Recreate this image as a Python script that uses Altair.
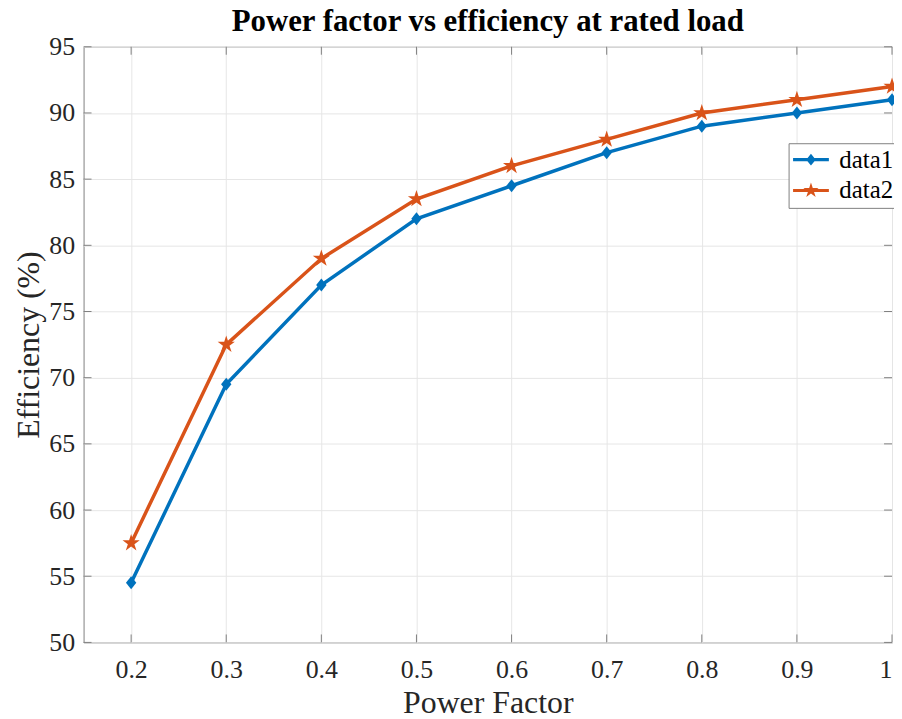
import altair as alt
import pandas as pd

power_factor = [0.2, 0.3, 0.4, 0.5, 0.6, 0.7, 0.8, 0.9, 1.0]
data1 = [54.5, 69.5, 77.0, 82.0, 84.5, 87.0, 89.0, 90.0, 91.0]
data2 = [57.5, 72.5, 79.0, 83.5, 86.0, 88.0, 90.0, 91.0, 92.0]
series_names = ["data1", "data2"]
x_ticks = [0.2, 0.3, 0.4, 0.5, 0.6, 0.7, 0.8, 0.9, 1.0]
y_ticks = [50, 55, 60, 65, 70, 75, 80, 85, 90, 95]

BLUE = "#0072BD"
ORANGE = "#D95319"
AXC = "#808080"
FONT = "Liberation Serif"

rows = []
for name, vals in zip(series_names, [data1, data2]):
    for p, v in zip(power_factor, vals):
        rows.append({"pf": p, "eff": v, "series": name})
df = pd.DataFrame(rows)

W, H = 813, 599
xscale = alt.Scale(domain=[0.15, 1.0], nice=False, zero=False)
yscale = alt.Scale(domain=[50, 95], nice=False, zero=False)
cscale = alt.Scale(domain=series_names, range=[BLUE, ORANGE])

diamond = "M0,-1L0.8,0L0,1L-0.8,0Z"
star = ("M0,-1L0.2245,-0.309L0.951,-0.309L0.363,0.118L0.588,0.809L0,0.382"
        "L-0.588,0.809L-0.363,0.118L-0.951,-0.309L-0.2245,-0.309Z")
bar = "M-1.5,-0.13L1.5,-0.13L1.5,0.13L-1.5,0.13Z"
leg_diamond = bar + "M0,-0.5L0.4,0L0,0.5L-0.4,0Z"
leg_star = bar + ("M0,-0.67L0.150,-0.207L0.637,-0.207L0.243,0.079L0.394,0.542L0,0.256"
                  "L-0.394,0.542L-0.243,0.079L-0.637,-0.207L-0.150,-0.207Z")

axis_style = dict(ticks=False, domain=False, grid=True,
                  labelFont=FONT, labelFontSize=26, labelColor="#262626",
                  titleFont=FONT, titleFontSize=32, titleFontWeight="normal", titleColor="#262626",
                  gridColor="#e6e6e6", gridWidth=1)
xaxis = alt.Axis(values=x_ticks, format=".1~f", labelPadding=14, titlePadding=5, **axis_style)
yaxis = alt.Axis(values=y_ticks, labelPadding=9, titlePadding=3, **axis_style)
XT = "Power Factor"
YT = "Efficiency (%)"


def X(field):
    return alt.X(field, scale=xscale, axis=xaxis, title=XT)


def Y(field):
    return alt.Y(field, scale=yscale, axis=yaxis, title=YT)


base = alt.Chart(df).encode(x=X("pf:Q"), y=Y("eff:Q"))
d1 = base.transform_filter(alt.datum.series == "data1")
d2 = base.transform_filter(alt.datum.series == "data2")

line1 = d1.mark_line(strokeWidth=3.5, color=BLUE)
line2 = d2.mark_line(strokeWidth=3.5, color=ORANGE)
pts1 = d1.mark_point(filled=True, shape=diamond, size=170, opacity=1, strokeWidth=0, color=BLUE)
pts2 = d2.mark_point(filled=True, shape=star, size=330, opacity=1, strokeWidth=0, color=ORANGE)

leg = dict(orient="none", legendX=709, legendY=97, title=None,
           labelFont=FONT, labelFontSize=25, labelColor="#000000",
           symbolSize=576, symbolOffset=6, labelOffset=16, rowPadding=5,
           padding=4, strokeColor=AXC, fillColor="white",
           symbolOpacity=1, symbolStrokeWidth=0)
legend_layer = base.mark_point(filled=True, opacity=0).encode(
    color=alt.Color("series:N", scale=cscale, legend=alt.Legend(**leg)),
    shape=alt.Shape("series:N", scale=alt.Scale(domain=series_names, range=[leg_diamond, leg_star]),
                    legend=alt.Legend(**leg)),
)

xt = pd.DataFrame({"pf": x_ticks})
yt = pd.DataFrame({"eff": y_ticks})
tick_b = alt.Chart(xt).mark_rule(color=AXC, strokeWidth=1).encode(
    x=X("pf:Q"), y=alt.value(H), y2=alt.value(H - 8))
tick_t = alt.Chart(xt).mark_rule(color=AXC, strokeWidth=1).encode(
    x=X("pf:Q"), y=alt.value(0), y2=alt.value(8))
tick_l = alt.Chart(yt).mark_rule(color=AXC, strokeWidth=1).encode(
    y=Y("eff:Q"), x=alt.value(0), x2=alt.value(8))
tick_r = alt.Chart(yt).mark_rule(color=AXC, strokeWidth=1).encode(
    y=Y("eff:Q"), x=alt.value(W), x2=alt.value(W - 8))

chart = alt.layer(tick_b, tick_t, tick_l, tick_r, line1, line2, pts1, pts2, legend_layer).properties(
    width=W, height=H,
    title=alt.Title("Power factor vs efficiency at rated load", font=FONT, fontSize=31,
                    fontWeight="bold", color="#000000", anchor="middle", frame="group",
                    offset=-4),
    autosize=alt.AutoSizeParams(type="none"),
    padding={"left": 76, "top": 37, "right": 2, "bottom": 71},
    background="white",
).configure_view(
    stroke=AXC, strokeWidth=1
).configure_legend(
    labelFont=FONT, labelFontSize=25, labelColor="#000000"
)

chart.save("out.html", embed_options={"renderer": "svg", "actions": False})
